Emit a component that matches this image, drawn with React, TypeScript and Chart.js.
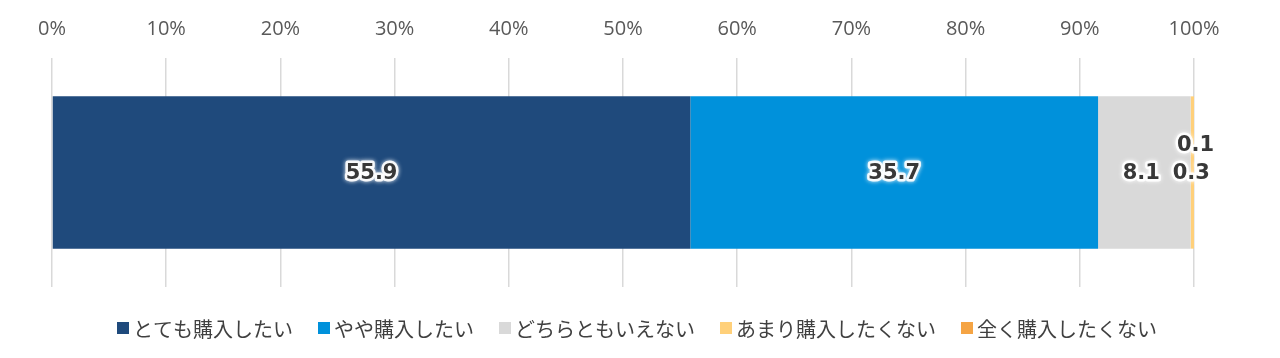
import React, { useEffect, useRef } from "react";
import { Chart, registerables } from "chart.js";

Chart.register(...registerables);

const categories = [""];
const seriesNames = ["とても購入したい", "やや購入したい", "どちらともいえない", "あまり購入したくない", "全く購入したくない"];
const seriesValues = [55.9, 35.7, 8.1, 0.3, 0.1];
const seriesColors = ["#1F4A7C", "#0091DB", "#D9D9D9", "#FFD07A", "#F5A444"];
const labelOffsets: [number, number][] = [[0, 0], [0, 0], [-3, 0], [-1, 0], [1, -28]];
const tickValues = [0, 10, 20, 30, 40, 50, 60, 70, 80, 90, 100];

const CJK = "'Noto Sans CJK JP', 'Noto Sans', sans-serif";
const TICK_FONT = "'Open Sans', 'Noto Sans', sans-serif";
const LABEL_FONT = "'DejaVu Sans', sans-serif";

const labelPlugin = {
  id: "haloLabels",
  afterDatasetsDraw(chart: any) {
    const ctx = chart.ctx;
    ctx.save();
    ctx.font = `bold 21px ${LABEL_FONT}`;
    ctx.textAlign = "center";
    ctx.textBaseline = "middle";
    ctx.lineJoin = "round";
    chart.data.datasets.forEach((ds: any, i: number) => {
      const meta = chart.getDatasetMeta(i);
      meta.data.forEach((el: any, j: number) => {
        const v = ds.data[j];
        const x = (el.x + el.base) / 2 + labelOffsets[i][0];
        const y = el.y + 1.5 + labelOffsets[i][1];
        const t = v.toFixed(1);
        ctx.shadowColor = "rgba(255,255,255,1)";
        ctx.shadowBlur = 4;
        ctx.strokeStyle = "rgba(255,255,255,0.9)";
        ctx.lineWidth = 5;
        ctx.strokeText(t, x, y);
        ctx.shadowBlur = 0;
        ctx.fillStyle = "#383838";
        ctx.fillText(t, x, y);
      });
    });
    ctx.restore();
  },
};

const legendPlugin = {
  id: "customLegend",
  afterDraw(chart: any) {
    const ctx = chart.ctx;
    const box = 12;
    const boxGap = 4;
    const itemGap = 25;
    ctx.save();
    ctx.font = `20px ${CJK}`;
    const widths = seriesNames.map((n) => ctx.measureText(n).width);
    const total = widths.reduce((a, w) => a + box + boxGap + w, 0) + itemGap * (seriesNames.length - 1);
    let x = (chart.width - total) / 2 - 3;
    const y = chart.chartArea.bottom + 41;
    ctx.textBaseline = "middle";
    ctx.textAlign = "left";
    seriesNames.forEach((n, i) => {
      ctx.fillStyle = seriesColors[i];
      ctx.fillRect(x, y - box / 2, box, box);
      x += box + boxGap;
      ctx.fillStyle = "#404040";
      ctx.fillText(n, x, y + 1);
      x += widths[i] + itemGap;
    });
    ctx.restore();
  },
};

export default function App() {
  const ref = useRef<HTMLCanvasElement>(null);
  useEffect(() => {
    document.body.style.margin = "0";
    const chart = new Chart(ref.current!, {
      type: "bar",
      data: {
        labels: categories,
        datasets: seriesNames.map((name, i) => ({
          label: name,
          data: [seriesValues[i]],
          backgroundColor: seriesColors[i],
          borderWidth: 0,
          barPercentage: 0.665,
          categoryPercentage: 1,
        })),
      },
      options: {
        indexAxis: "y",
        animation: false,
        responsive: false,
        maintainAspectRatio: false,
        layout: { padding: { top: 0, left: 52, right: 86, bottom: 71 } },
        scales: {
          x: {
            position: "top",
            stacked: true,
            min: 0,
            max: 100,
            afterBuildTicks: (axis: any) => {
              axis.ticks = tickValues.map((v) => ({ value: v }));
            },
            grid: { color: "#D9D9D9", lineWidth: 1.5, drawTicks: false },
            border: { display: false },
            ticks: {
              padding: 17,
              color: "#595959",
              font: { family: TICK_FONT, size: 20 },
              callback: (v: any) => v + "%",
            },
          },
          y: {
            stacked: true,
            display: false,
          },
        },
        plugins: {
          legend: { display: false },
          tooltip: { enabled: false },
        },
      },
      plugins: [labelPlugin, legendPlugin],
    });
    return () => chart.destroy();
  }, []);
  return (
    <div style={{ width: 1280, height: 358 }}>
      <canvas ref={ref} width={1280} height={358} style={{ display: "block" }} />
    </div>
  );
}
